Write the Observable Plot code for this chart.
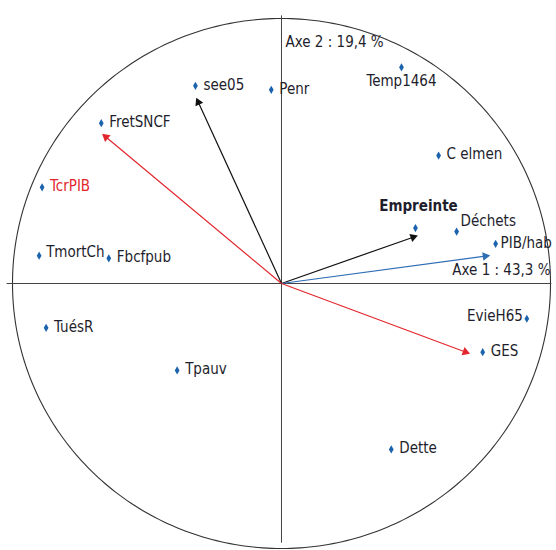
<!DOCTYPE html>
<html>
<head>
<meta charset="utf-8">
<script src="https://cdn.jsdelivr.net/npm/d3@7"></script>
<script src="https://cdn.jsdelivr.net/npm/@observablehq/plot@0.6"></script>
<style>
  html, body { margin: 0; padding: 0; background: #fff; }
  #chart svg { display: block; font-stretch: condensed; }
</style>
</head>
<body>
<div id="chart"></div>
<script>
// Variables (coordinates on the correlation circle)
const names = ["see05", "Penr", "Temp1464", "FretSNCF", "C elmen", "TcrPIB", "Empreinte", "Déchets",
  "PIB/hab", "TmortCh", "Fbcfpub", "EvieH65", "TuésR", "GES", "Tpauv", "Dette"];
const axis1 = [-0.320, -0.038, 0.446, -0.670, 0.584, -0.890, 0.498, 0.651,
  0.796, -0.901, -0.642, 0.912, -0.875, 0.748, -0.388, 0.408];
const axis2 = [0.746, 0.731, 0.816, 0.605, 0.483, 0.363, 0.209, 0.196,
  0.150, 0.105, 0.095, -0.133, -0.167, -0.259, -0.328, -0.626];

// Arrows (from the origin)
const arrowNames = ["see05", "FretSNCF", "Empreinte", "PIB/hab", "GES"];
const arrowX = [-0.317, -0.667, 0.507, 0.776, 0.701];
const arrowY = [0.701, 0.565, 0.181, 0.106, -0.265];

const axisTitles = ["Axe 1 : 43,3 %", "Axe 2 : 19,4 %"];

// ---- styling ----
const arrowColor = {"see05": "#111", "FretSNCF": "#e3262d", "Empreinte": "#111", "PIB/hab": "#2f6db5", "GES": "#e3262d"};
const pointColor = "#1b63ad";
const textColor = "#1e1e2c";
const W = 556, H = 550;
const xd = [-1.0446, 1.0223], yd = [-1.0075, 1.0679];
const kx = W / (xd[1] - xd[0]), ky = H / (yd[1] - yd[0]);

const points = names.map((n, i) => ({name: n, x: axis1[i], y: axis2[i]}));
const arrows = arrowNames.map((n, i) => {
  const tx = arrowX[i], ty = arrowY[i];
  const sx = tx * kx, sy = ty * ky, L = Math.hypot(sx, sy);
  const ux = sx / L, uy = sy / L;
  const back = 5;
  return {
    name: n, x1: 0, y1: 0,
    x2: tx - ux * back / kx, y2: ty - uy * back / ky,
    rot: Math.atan2(ux, uy) * 180 / Math.PI,
    color: arrowColor[n]
  };
});
const circle = d3.range(0, 361).map(a => ({x: Math.cos(a * Math.PI / 180), y: Math.sin(a * Math.PI / 180)}));

const special = {
  "Temp1464": {textAnchor: "middle", dx: 0, dy: 14},
  "Empreinte": {textAnchor: "middle", dx: 3, dy: -22, fontWeight: "bold"},
  "Déchets": {textAnchor: "start", dx: 4, dy: -10},
  "EvieH65": {textAnchor: "end", dx: -4, dy: -3},
  "TmortCh": {textAnchor: "start", dx: 7, dy: -3},
  "PIB/hab": {textAnchor: "start", dx: 5, dy: -1}
};
const defaultLabels = points.filter(d => !special[d.name]);
const labelMarks = Object.entries(special).map(([n, opt]) =>
  Plot.text(points.filter(d => d.name === n), {x: "x", y: "y", text: "name", fill: textColor, ...opt})
);

const fontFamily = "'DejaVu Sans Condensed', 'Liberation Sans Narrow', 'DejaVu Sans', sans-serif";

const chart = Plot.plot({
  width: W, height: H,
  margin: 0,
  x: {domain: xd, axis: null},
  y: {domain: yd, axis: null},
  style: {fontFamily, fontSize: "15px", background: "#fff"},
  marks: [
    Plot.line(circle, {x: "x", y: "y", stroke: "#333", strokeWidth: 1.1}),
    Plot.ruleX([0], {y1: -0.98, y2: 1.01, stroke: "#444", strokeWidth: 1}),
    Plot.ruleY([0], {x1: -1.02, x2: 1.005, stroke: "#444", strokeWidth: 1}),
    Plot.link(arrows, {x1: "x1", y1: "y1", x2: "x2", y2: "y2", stroke: d => d.color, strokeWidth: 1.2}),
    Plot.dot(arrows, {x: "x2", y: "y2", symbol: "triangle", r: 3.2, rotate: "rot", fill: d => d.color, stroke: "none"}),
    Plot.dot(points, {x: "x", y: "y", symbol: "diamond", r: 2.5, fill: pointColor, stroke: "none"}),
    Plot.text(defaultLabels, {x: "x", y: "y", text: "name", textAnchor: "start", dx: 8, dy: -1,
      fill: d => d.name === "TcrPIB" ? "#e3262d" : textColor}),
    ...labelMarks,
    Plot.text([axisTitles[1]], {x: 0, y: 0.91, text: d => d, textAnchor: "start", dx: 4, fill: textColor}),
    Plot.text([axisTitles[0]], {x: 1.0, y: 0, text: d => d, textAnchor: "end", dy: -13, fill: textColor})
  ]
});
document.getElementById("chart").appendChild(chart);
</script>
</body>
</html>
